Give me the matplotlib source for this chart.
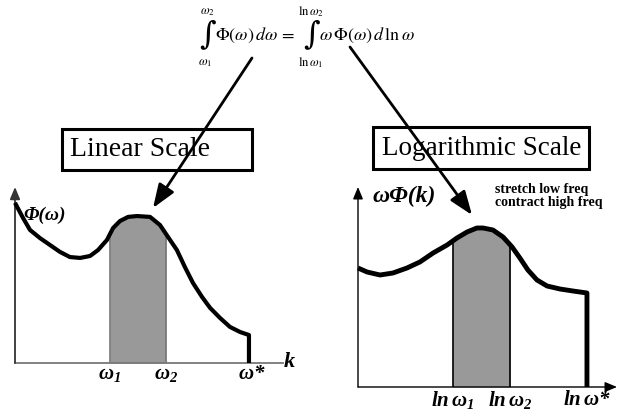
import matplotlib
matplotlib.use("Agg")
import matplotlib.pyplot as plt
import numpy as np
from matplotlib.patches import Rectangle

plt.rcParams["mathtext.fontset"] = "custom"
plt.rcParams["mathtext.rm"] = "Liberation Serif:italic:bold"
plt.rcParams["mathtext.it"] = "Liberation Serif:italic:bold"
plt.rcParams["mathtext.bf"] = "Liberation Serif:italic:bold"

# linear-scale spectrum Phi(omega), arbitrary units
lin_x = [0, 3, 5.6, 9.3, 13.1, 16.8, 20.5, 24.3, 28, 31, 34.3, 36.6, 39.2, 42.2, 45.5, 50.4,
         54.1, 57.1, 60.4, 63.4, 66.4, 69.8, 72.8, 76.5, 80.2, 84, 87.3]
lin_y = [91, 82.4, 75.6, 71, 67, 63.1, 60.2, 59.7, 60.8, 64.2, 69.9, 76.7, 80.7, 83, 83.5, 83,
         78.4, 71.6, 64.2, 54.5, 45.5, 37.5, 31.3, 25.6, 20.5, 17.6, 15.9]
lin_band = [35.4, 56.3]
lin_cut = 87.3

# premultiplied spectrum omega*Phi on log axis
log_x = [0, 3.5, 8.5, 13.5, 18.9, 23.9, 29, 34.4, 38.2, 42.1, 45.9, 48.3, 52.1, 56, 59.5, 62.5,
         65.6, 69.1, 73, 78, 83, 88.4]
log_y = [59.5, 57.5, 56, 57, 59.5, 62.5, 67, 71, 74.5, 77.5, 79.5, 79.5, 78.5, 75, 70, 64.5,
         58.5, 53.5, 50.5, 49, 48, 47]
log_band = [36.6, 58.7]
log_cut = 88.4

W, H = 618, 413
fig = plt.figure(figsize=(W / 100, H / 100), dpi=100)


def panel(x0, x1, ytop, ybot):
    ax = fig.add_axes([x0 / W, (H - ybot) / H, (x1 - x0) / W, (ybot - ytop) / H])
    ax.set_xlim(0, 100)
    ax.set_ylim(0, 100)
    ax.set_axis_off()
    return ax


def draw_curve(ax, xs, ys, band, cut, lw, shade_edge):
    xs = np.asarray(xs, float)
    ys = np.asarray(ys, float)
    inside = (xs > band[0]) & (xs < band[1])
    bx = np.concatenate([[band[0]], xs[inside], [band[1]]])
    by = np.interp(bx, xs, ys)
    ax.fill_between(bx, 0, by, color="#999999", lw=0, zorder=1)
    for b, v in zip(band, by[[0, -1]]):
        ax.plot([b, b], [0, v], color=shade_edge, lw=1.2, zorder=2)
    ax.plot(np.append(xs, cut), np.append(ys, 0), color="black", lw=lw,
            solid_joinstyle="round", solid_capstyle="butt", zorder=3, clip_on=False)


bi = dict(fontfamily="Liberation Serif", fontweight="bold", fontstyle="italic")
lab = dict(fontsize=15, ha="center", va="center", math_fontfamily="custom", **bi)

# ---- left panel: linear scale
axl = panel(15, 283, 187, 363)
axl.annotate("", xy=(0, 100), xytext=(0, 0),
             arrowprops=dict(arrowstyle="-|>,head_length=0.6,head_width=0.25", mutation_scale=12,
                             color="#333333", lw=1.3, shrinkA=0, shrinkB=0), annotation_clip=False)
axl.plot([0, 100], [0, 0], color="#777777", lw=1.3, clip_on=False)
draw_curve(axl, lin_x, lin_y, lin_band, lin_cut, 3.0, "#777777")
axl.text(lin_band[0], -6.5, r"$\omega_1$", **lab)
axl.text(lin_band[1], -6.5, r"$\omega_2$", **lab)
axl.text(lin_cut + 1, -6.5, r"$\omega$*", **lab)
axl.text(102.5, 0.5, "k", fontsize=16, ha="center", va="center", **bi)
axl.text(3, 84, "Φ(ω)", fontsize=14, ha="left", va="center", **bi)

# ---- right panel: logarithmic scale
axr = panel(358, 617, 187, 387)
for tip in [(0, 100), (100, 0)]:
    axr.annotate("", xy=tip, xytext=(0, 0),
                 arrowprops=dict(arrowstyle="-|>,head_length=0.6,head_width=0.25", mutation_scale=12,
                                 color="black", lw=1.0, shrinkA=0, shrinkB=0), annotation_clip=False)
draw_curve(axr, log_x, log_y, log_band, log_cut, 3.5, "black")
axr.text(log_band[0], -6.5, r"$ln\,\omega_1$", **lab)
axr.text(log_band[1], -6.5, r"$ln\,\omega_2$", **lab)
axr.text(log_cut, -6.5, r"$ln\,\omega$*", **lab)
axr.text(5.5, 95.5, "ωΦ(k)", fontsize=17, ha="left", va="center", **bi)
axr.text(53, 95.5, "stretch low freq\ncontract high freq", fontfamily="Liberation Serif",
         fontweight="bold", fontsize=10, ha="left", va="center", linespacing=1.05)

# ---- overlay: formula, boxes, arrows (pixel coordinates)
ov = fig.add_axes([0, 0, 1, 1], facecolor="none")
ov.set_xlim(0, W)
ov.set_ylim(H, 0)
ov.set_axis_off()

eq = dict(math_fontfamily="stix", va="center", color="black")
ov.text(208, 35, "∫", fontfamily="DejaVu Serif", fontsize=23, ha="center", va="center")
ov.text(207, 12, r"$\omega_2$", fontsize=9, ha="center", **eq)
ov.text(205, 63, r"$\omega_1$", fontsize=9, ha="center", **eq)
ov.text(215, 35, r"$\Phi(\omega)\,d\omega\,=$", fontsize=13, ha="left", **eq)
ov.text(312, 35, "∫", fontfamily="DejaVu Serif", fontsize=23, ha="center", va="center")
ov.text(311, 12, r"$\mathrm{ln}\,\omega_2$", fontsize=9, ha="center", **eq)
ov.text(311, 63, r"$\mathrm{ln}\,\omega_1$", fontsize=9, ha="center", **eq)
ov.text(319, 35, r"$\omega\,\Phi(\omega)\,d\,\mathrm{ln}\,\omega$", fontsize=13, ha="left", **eq)

for (bx0, by0, bx1, by1), label, fs in [((61.5, 128.5, 251.5, 169.5), "Linear Scale", 20),
                                        ((373, 127, 588.5, 168.5), "Logarithmic Scale", 19.5)]:
    ov.add_patch(Rectangle((bx0, by0), bx1 - bx0, by1 - by0, fill=False, lw=2.2, ec="black"))
    ov.text(bx0 + 8.5, (by0 + by1) / 2 + 1, label, fontfamily="Liberation Serif",
            fontsize=fs, ha="left", va="center")

for start, end in [((252, 58), (153, 208)), ((350, 47), (472, 215))]:
    ov.annotate("", xy=end, xytext=start,
                arrowprops=dict(arrowstyle="-|>,head_length=1.2,head_width=0.45", mutation_scale=12,
                                color="black", lw=2.0, shrinkA=0, shrinkB=0))

fig.savefig("out.png", dpi=100)
